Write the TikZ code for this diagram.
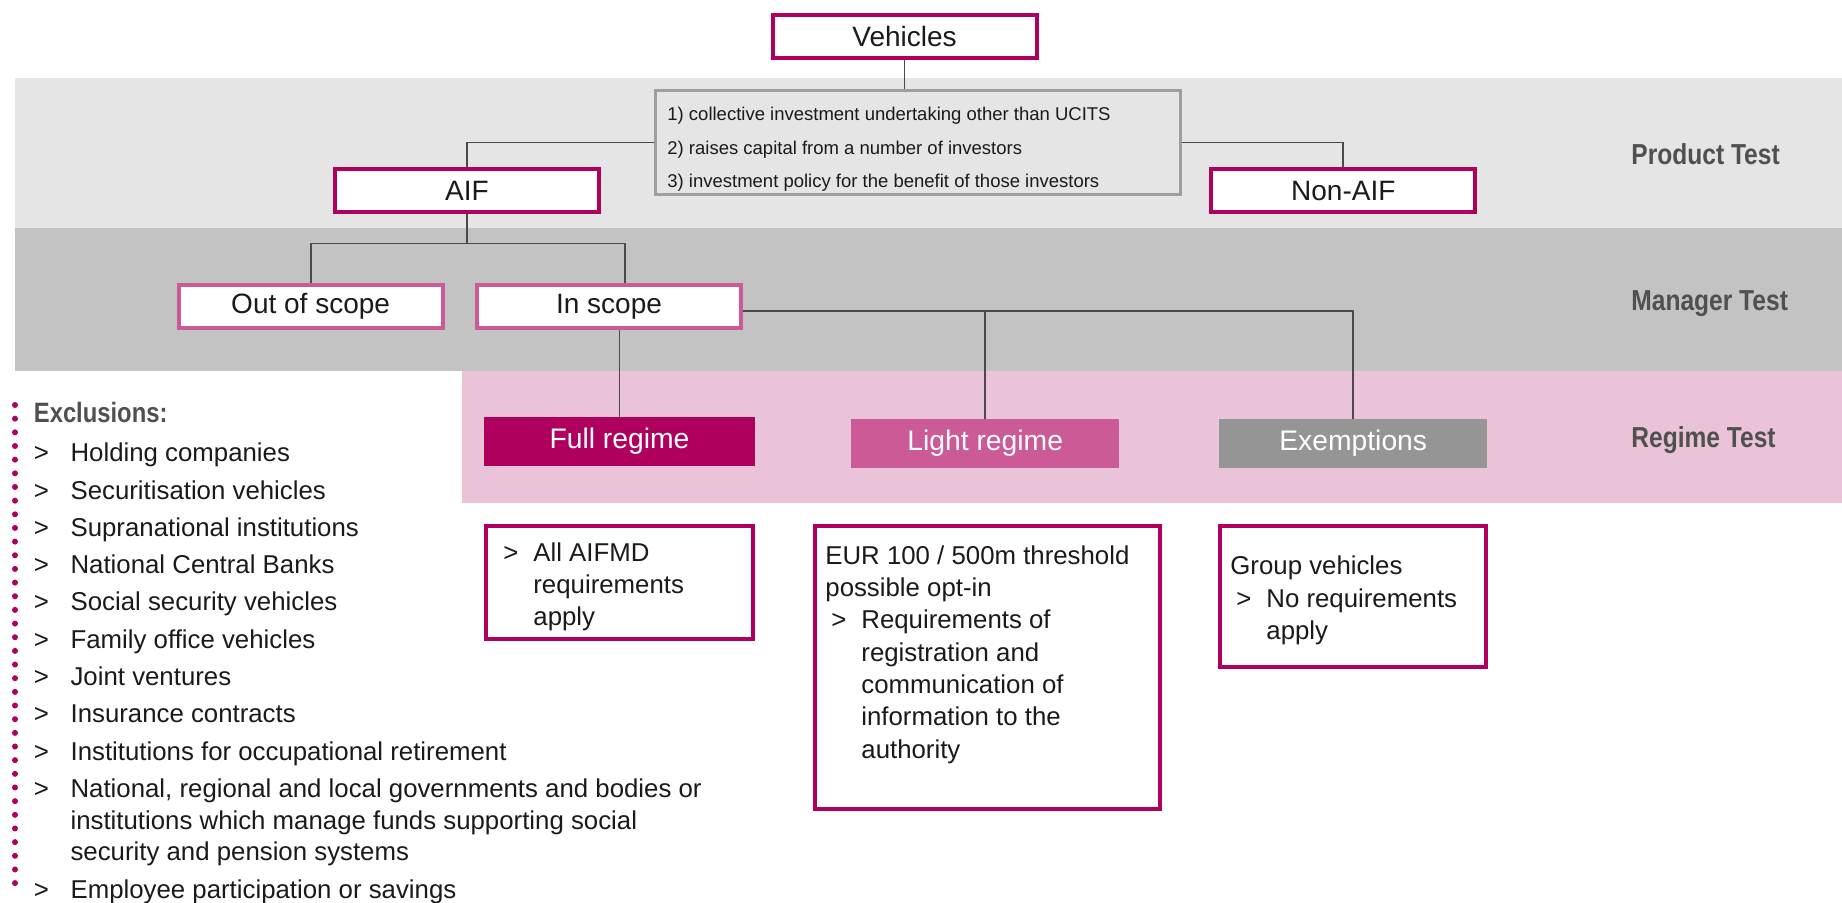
\documentclass[tikz,border=0pt]{standalone}
\usepackage{fontspec}
\setmainfont{Liberation Sans}
\newfontfamily\condfont[FakeStretch=0.85]{Liberation Sans}
\usepackage{xcolor}
\definecolor{aifMagenta}{HTML}{B0005E}
\definecolor{aifPink}{HTML}{CC5A97}
\definecolor{aifGrey}{HTML}{959595}
\definecolor{bandLight}{HTML}{E5E5E5}
\definecolor{bandMid}{HTML}{C3C3C3}
\definecolor{bandPink}{HTML}{EAC3D9}
\definecolor{lineDark}{HTML}{4A4A4A}
\definecolor{labelGray}{HTML}{505050}
\definecolor{critBorder}{HTML}{9E9E9E}
\definecolor{textDark}{HTML}{1A1A1A}
\usetikzlibrary{positioning,calc}
\tikzset{
    topbox/.style={
        draw=aifMagenta,
        fill=white,
        rectangle,
        line width=2pt,
        minimum width=132pt,
        minimum height=21.75pt,
        inner sep=0pt,
        text=textDark,
        font=\fontsize{14}{16}\selectfont
    },
    scopebox/.style={
        topbox,
        draw=aifPink
    },
    regime/.style={
        rectangle,
        minimum width=134pt,
        minimum height=24.3pt,
        inner sep=0pt,
        text=white,
        font=\fontsize{14.15}{16}\selectfont
    },
    detail/.style={
        draw=aifMagenta,
        fill=white,
        rectangle,
        line width=2pt,
        inner sep=0pt
    },
    detailtext/.style={
        anchor=base west,
        inner sep=0pt,
        text=textDark,
        font=\fontsize{12.9}{16.17}\selectfont
    },
    criteria/.style={
        draw=critBorder,
        fill=bandLight,
        rectangle,
        line width=1.35pt,
        minimum width=262.4pt,
        minimum height=51.7pt,
        inner sep=0pt
    },
    crittext/.style={
        anchor=base west,
        inner sep=0pt,
        text=textDark,
        font=\fontsize{9.25}{16.65}\selectfont
    },
    testlabel/.style={
        anchor=base west,
        inner sep=0pt,
        text=labelGray,
        font=\condfont\bfseries\fontsize{14.45}{16}\selectfont
    },
    connector/.style={
        draw=lineDark,
        line width=0.9pt
    }
}

\begin{document}
\begin{tikzpicture}[x=0.5pt,y=-0.5pt]
    \useasboundingbox (0,0) rectangle (1842,902);

    % Test bands
    \fill[bandLight] (15,78.3) rectangle (1842,228.4);
    \fill[bandMid] (15,228.4) rectangle (1842,370.6);
    \fill[bandPink] (462,370.6) rectangle (1842,502.7);

    \node[testlabel] (product) at (1631,164) {Product Test};
    \node[testlabel] (manager) at (1631,310.7) {Manager Test};
    \node[testlabel] (regimetest) at (1631,447.7) {Regime Test};

    % Product test
    \node[topbox] (vehicles) at (904.5,36.7) {Vehicles};
    \node[criteria] (criteria) at (918.2,142.5) {};
    \node[crittext] (critlist) at (667,120.7) {\begin{tabular}[t]{@{}l@{}}
        1) collective investment undertaking other than UCITS\\
        2) raises capital from a number of investors\\
        3) investment policy for the benefit of those investors
    \end{tabular}};
    \node[topbox] (aif) at (467,190.5) {AIF};
    \node[topbox] (nonaif) at (1343.3,190.5) {Non-AIF};

    \draw[connector] (vehicles.south) -- (vehicles.south |- criteria.north);
    \draw[connector] (criteria.west) -| (aif.north);
    \draw[connector] (criteria.east) -| (nonaif.north);

    % Manager test
    \node[scopebox] (outscope) at (310.6,306.7) {Out of scope};
    \node[scopebox] (inscope) at (609,306.7) {In scope};

    \coordinate (aifsplit) at (467,243.4);
    \draw[connector] (aif.south) -- (aifsplit);
    \draw[connector] (aifsplit) -| (outscope.north);
    \draw[connector] (aifsplit) -| ([xshift=8pt]inscope.north);

    % Regime test
    \node[regime, fill=aifMagenta, minimum width=135.5pt] (full) at (619.5,441.5) {Full regime};
    \node[regime, fill=aifPink] (light) at (985.2,443.3) {Light regime};
    \node[regime, fill=aifGrey] (exempt) at (1353.2,443.3) {Exemptions};

    \coordinate (regsplit) at ([yshift=-2pt]inscope.east);
    \draw[connector] (regsplit) -| (exempt.north);
    \draw[connector] (light.north) -- (light.north |- regsplit);
    \draw[connector] (full.north |- inscope.south) -- (full.north);

    % Requirements
    \node[detail, minimum width=133.5pt, minimum height=56.35pt] (fullbox) at (619.5,582.7) {};
    \node[detail, minimum width=172.4pt, minimum height=141.2pt] (lightbox) at (987.2,667.5) {};
    \node[detail, minimum width=133pt, minimum height=70.5pt] (exemptbox) at (1353,596.8) {};

    \node[detailtext] (fulltext) at (497,561) {\begin{tabular}[t]{@{\hspace{3pt}}p{15pt}@{}l@{}}
        > & All AIFMD\\
          & requirements\\
          & apply
    \end{tabular}};
    \node[detailtext] (lighttext) at (825,564) {\begin{tabular}[t]{@{\hspace{3pt}}p{15pt}@{}l@{}}
        \multicolumn{2}{@{}l@{}}{EUR 100 / 500m threshold}\\
        \multicolumn{2}{@{}l@{}}{possible opt-in}\\
        > & Requirements of\\
          & registration and\\
          & communication of\\
          & information to the\\
          & authority
    \end{tabular}};
    \node[detailtext] (exempttext) at (1230,574.7) {\begin{tabular}[t]{@{\hspace{3pt}}p{15pt}@{}l@{}}
        \multicolumn{2}{@{}l@{}}{Group vehicles}\\
        > & No requirements\\
          & apply
    \end{tabular}};

    % Exclusions
    \foreach \k in {0,...,35}
        \fill[aifMagenta] (15,405+13.66*\k) circle (1.5pt);

    \node[anchor=base west, inner sep=0pt, text=textDark, font=\fontsize{12.9}{15.85}\selectfont] (exclusions) at (33.5,422.7) {\begin{tabular}[t]{@{}p{18.35pt}@{}l@{}}
        \multicolumn{2}{@{}l@{}}{\color{labelGray}\condfont\bfseries\fontsize{14}{15.85}\selectfont Exclusions:}\\[3.65pt]
        > & Holding companies\\[2.8pt]
        > & Securitisation vehicles\\[2.8pt]
        > & Supranational institutions\\[2.8pt]
        > & National Central Banks\\[2.8pt]
        > & Social security vehicles\\[2.8pt]
        > & Family office vehicles\\[2.8pt]
        > & Joint ventures\\[2.8pt]
        > & Insurance contracts\\[2.8pt]
        > & Institutions for occupational retirement\\[2.8pt]
        > & National, regional and local governments and bodies or\\
          & institutions which manage funds supporting social\\
          & security and pension systems\\[2.8pt]
        > & Employee participation or savings
    \end{tabular}};
\end{tikzpicture}
\end{document}
